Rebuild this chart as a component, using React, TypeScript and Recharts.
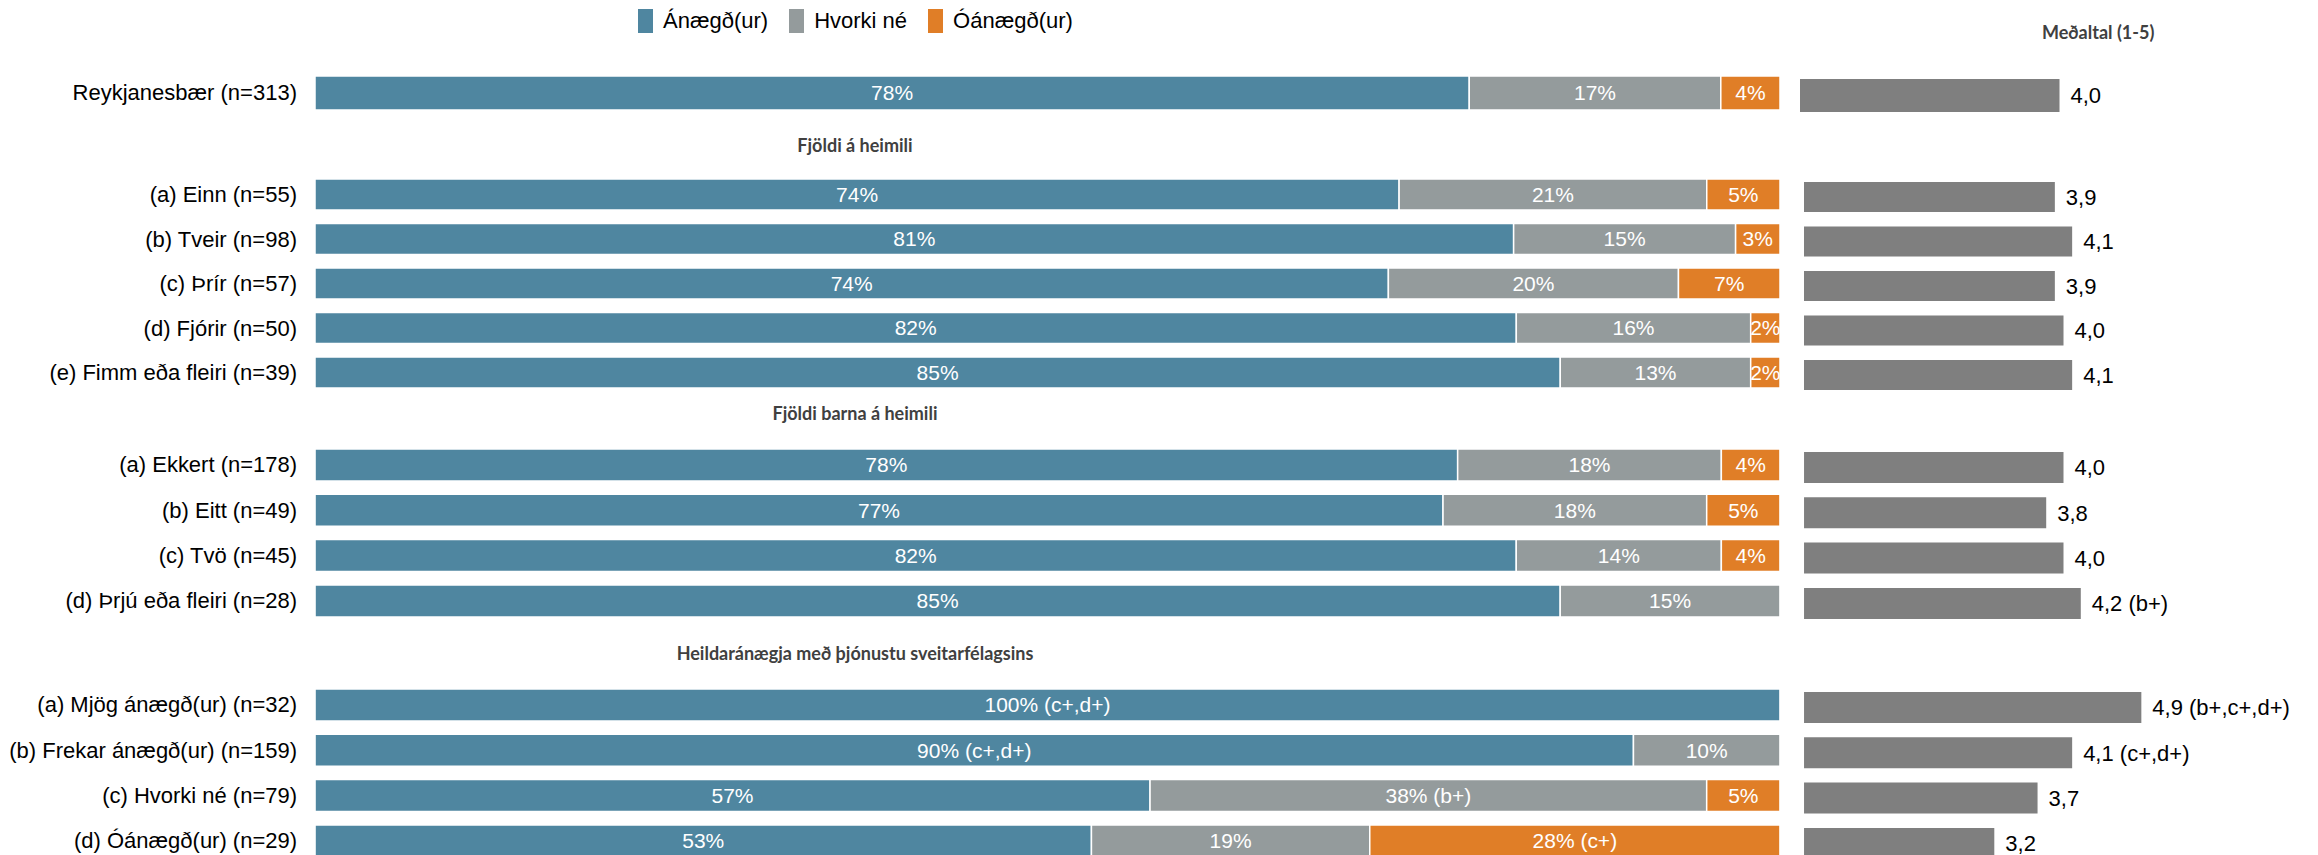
import { Bar, BarChart, LabelList, XAxis, YAxis } from "recharts";

const SANS = "'Liberation Sans', Arial, sans-serif";
const HEAD = "Lato, 'Open Sans', sans-serif";

const BLUE = "#4f86a0";
const GRAY = "#949b9c";
const ORANGE = "#e07e27";
const MEAN = "#7f7f7f";

// flokkar
const groupTitles = ["", "Fjöldi á heimili", "Fjöldi barna á heimili", "Heildaránægja með þjónustu sveitarfélagsins"];
const categories = [
  ["Reykjanesbær (n=313)"],
  ["(a) Einn (n=55)", "(b) Tveir (n=98)", "(c) Þrír (n=57)", "(d) Fjórir (n=50)", "(e) Fimm eða fleiri (n=39)"],
  ["(a) Ekkert (n=178)", "(b) Eitt (n=49)", "(c) Tvö (n=45)", "(d) Þrjú eða fleiri (n=28)"],
  ["(a) Mjög ánægð(ur) (n=32)", "(b) Frekar ánægð(ur) (n=159)", "(c) Hvorki né (n=79)", "(d) Óánægð(ur) (n=29)"],
];

// hlutföll (%)
const anaegd = [[78], [74, 81, 74, 82, 85], [78, 77, 82, 85], [100, 90, 57, 53]];
const hvorki = [[17], [21, 15, 20, 16, 13], [18, 18, 14, 15], [0, 10, 38, 19]];
const oanaegd = [[4], [5, 3, 7, 2, 2], [4, 5, 4, 0], [0, 0, 5, 28]];
const anaegdNote = [[""], ["", "", "", "", ""], ["", "", "", ""], ["(c+,d+)", "(c+,d+)", "", ""]];
const hvorkiNote = [[""], ["", "", "", "", ""], ["", "", "", ""], ["", "", "(b+)", ""]];
const oanaegdNote = [[""], ["", "", "", "", ""], ["", "", "", ""], ["", "", "", "(c+)"]];

// meðaltal (1-5)
const medaltal = [[4.0], [3.9, 4.1, 3.9, 4.0, 4.1], [4.0, 3.8, 4.0, 4.2], [4.9, 4.1, 3.7, 3.2]];
const medaltalNote = [[""], ["", "", "", "", ""], ["", "", "", "(b+)"], ["(b+,c+,d+)", "(c+,d+)", "", ""]];

const legendItems = [
  { name: "Ánægð(ur)", color: BLUE },
  { name: "Hvorki né", color: GRAY },
  { name: "Óánægð(ur)", color: ORANGE },
];

// placement of each group block (px)
const layout = [
  { top: 69.5, rowH: 45, bar: 34, meanBar: 33, meanLeft: 1800, titleY: 0 },
  { top: 171.5, rowH: 44.5, bar: 31, meanBar: 30, meanLeft: 1804, titleY: 145 },
  { top: 441.5, rowH: 45.3, bar: 32, meanBar: 31, meanLeft: 1804, titleY: 413 },
  { top: 681.5, rowH: 45.3, bar: 32, meanBar: 31, meanLeft: 1804, titleY: 653 },
];

const pct = (v: number, note: string) => (v > 0 ? `${v}%${note ? " " + note : ""}` : "");
const avg = (v: number, note: string) => `${v.toFixed(1).replace(".", ",")}${note ? " " + note : ""}`;

function Group({ g }: { g: number }) {
  const L = layout[g];
  const rows = categories[g].map((name, i) => ({
    name,
    a: anaegd[g][i],
    h: hvorki[g][i],
    o: oanaegd[g][i],
    aLab: pct(anaegd[g][i], anaegdNote[g][i]),
    hLab: pct(hvorki[g][i], hvorkiNote[g][i]),
    oLab: pct(oanaegd[g][i], oanaegdNote[g][i]),
    mean: medaltal[g][i],
    meanLab: avg(medaltal[g][i], medaltalNote[g][i]),
  }));
  const h = rows.length * L.rowH;
  const inBar = { fill: "#fff", fontSize: 21, fontFamily: SANS };

  return (
    <>
      <div style={{ position: "absolute", left: 0, top: L.top }}>
        <BarChart
          layout="vertical" width={1780} height={h} data={rows} stackOffset="expand"
          margin={{ top: 0, right: 0, bottom: 0, left: 0 }} barSize={L.bar}
        >
          <XAxis type="number" hide domain={[0, 1]} />
          <YAxis
            type="category" dataKey="name" width={315} axisLine={false} tickLine={false}
            tickSize={0} tickMargin={18} interval={0}
            tick={{ fontSize: 22, fill: "#000", fontFamily: SANS }}
          />
          <Bar dataKey="a" stackId="s" fill={BLUE} stroke="#fff" strokeWidth={1.5} isAnimationActive={false}>
            <LabelList dataKey="aLab" position="center" {...inBar} />
          </Bar>
          <Bar dataKey="h" stackId="s" fill={GRAY} stroke="#fff" strokeWidth={1.5} isAnimationActive={false}>
            <LabelList dataKey="hLab" position="center" {...inBar} />
          </Bar>
          <Bar dataKey="o" stackId="s" fill={ORANGE} stroke="#fff" strokeWidth={1.5} isAnimationActive={false}>
            <LabelList dataKey="oLab" position="center" {...inBar} />
          </Bar>
        </BarChart>
      </div>
      <div style={{ position: "absolute", left: L.meanLeft, top: L.top + 3 }}>
        <BarChart
          layout="vertical" width={2318 - L.meanLeft} height={h} data={rows}
          margin={{ top: 0, right: 2318 - L.meanLeft - 346, bottom: 0, left: 0 }} barSize={L.meanBar}
        >
          <XAxis type="number" hide domain={[1, 5]} allowDataOverflow />
          <YAxis type="category" dataKey="name" hide />
          <Bar dataKey="mean" fill={MEAN} isAnimationActive={false}>
            <LabelList dataKey="meanLab" position="right" offset={11} fill="#000" fontSize={22} fontFamily={SANS} />
          </Bar>
        </BarChart>
      </div>
      {groupTitles[g] && (
        <div
          style={{
            position: "absolute", left: 855, top: L.titleY, transform: "translate(-50%, -50%)",
            fontFamily: HEAD, fontWeight: 700, fontSize: 18, color: "#404040", whiteSpace: "nowrap",
          }}
        >
          {groupTitles[g]}
        </div>
      )}
    </>
  );
}

export default function App() {
  return (
    <div style={{ position: "absolute", left: 0, top: 0, width: 2318, height: 855, background: "#fff", overflow: "hidden" }}>
      {/* legend */}
      <div style={{ position: "absolute", left: 638, top: 9, display: "flex", alignItems: "center", height: 24 }}>
        {legendItems.map((it) => (
          <div key={it.name} style={{ display: "flex", alignItems: "center", marginRight: 21 }}>
            <span style={{ width: 15, height: 24, background: it.color, display: "inline-block", marginRight: 10 }} />
            <span style={{ fontFamily: SANS, fontSize: 22, color: "#000" }}>{it.name}</span>
          </div>
        ))}
      </div>
      <div
        style={{
          position: "absolute", left: 2042, top: 32, transform: "translateY(-50%)",
          fontFamily: HEAD, fontWeight: 700, fontSize: 18, color: "#404040", whiteSpace: "nowrap",
        }}
      >
        Meðaltal (1-5)
      </div>
      {categories.map((_, g) => (
        <Group key={g} g={g} />
      ))}
    </div>
  );
}
